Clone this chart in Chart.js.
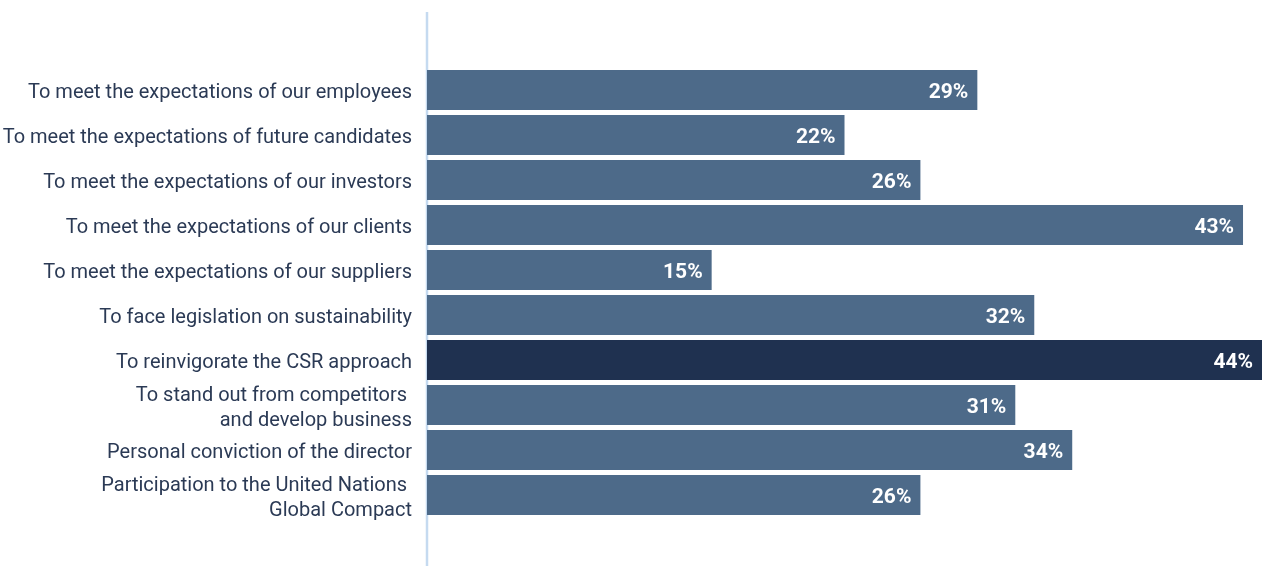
<!DOCTYPE html>
<html>
<head>
<meta charset="utf-8">
<script src="https://cdn.jsdelivr.net/npm/chart.js@4"></script>
<style>
  html, body { margin: 0; padding: 0; background: #fff; }
  #wrap { width: 1262px; height: 566px; }
</style>
</head>
<body>
<div id="wrap"><canvas id="myChart" width="1262" height="566"></canvas></div>
<script>
let reasons = [
    'To meet the expectations of our employees',
    'To meet the expectations of future candidates',
    'To meet the expectations of our investors',
    'To meet the expectations of our clients',
    'To meet the expectations of our suppliers',
    'To face legislation on sustainability',
    'To reinvigorate the CSR approach',
    ['To stand out from competitors ', 'and develop business'],
    'Personal conviction of the director',
    ['Participation to the United Nations ', 'Global Compact']
];
let shares = [29, 22, 26, 43, 15, 32, 44, 31, 34, 26];
let highlighted = [6];

let barColor = '#4d6a89';
let darkColor = '#1f3150';
let fontName = 'Roboto';

// vertical rule drawn along the zero line, running past the bars
let axisRule = {
    id: 'axisRule',
    beforeDatasetsDraw(chart) {
        let ctx = chart.ctx;
        let x = chart.scales.x.getPixelForValue(0);
        ctx.save();
        ctx.strokeStyle = '#c5daf0';
        ctx.lineWidth = 2.5;
        ctx.beginPath();
        ctx.moveTo(x, 12);
        ctx.lineTo(x, chart.height);
        ctx.stroke();
        ctx.restore();
    }
};

// percentage labels inside the end of each bar
let valueLabels = {
    id: 'valueLabels',
    afterDatasetsDraw(chart) {
        let ctx = chart.ctx;
        let meta = chart.getDatasetMeta(0);
        ctx.save();
        ctx.fillStyle = '#ffffff';
        ctx.font = 'bold 21px ' + fontName;
        ctx.textAlign = 'right';
        ctx.textBaseline = 'middle';
        meta.data.forEach((bar, i) => {
            ctx.fillText(shares[i] + '%', bar.x - 9, bar.y + 3);
        });
        ctx.restore();
    }
};

let ctx = document.getElementById('myChart').getContext('2d');
new Chart(ctx, {
    type: 'bar',
    data: {
        labels: reasons,
        datasets: [{
            data: shares,
            backgroundColor: shares.map((v, i) => highlighted.includes(i) ? darkColor : barColor),
            barPercentage: 40 / 45,
            categoryPercentage: 1
        }]
    },
    options: {
        indexAxis: 'y',
        responsive: false,
        animation: false,
        layout: { padding: { top: 67.5, bottom: 48.5, left: 0, right: 0 } },
        plugins: {
            legend: { display: false },
            tooltip: { enabled: false }
        },
        scales: {
            x: {
                display: false,
                min: 0,
                max: 44
            },
            y: {
                afterFit(scale) { scale.width = 427; },
                grid: { display: false, drawTicks: false },
                border: { display: false },
                ticks: {
                    autoSkip: false,
                    color: '#2b3a55',
                    padding: 15,
                    labelOffset: 3,
                    font: { family: fontName, size: 20, lineHeight: 1.25 }
                }
            }
        }
    },
    plugins: [axisRule, valueLabels]
});
</script>
</body>
</html>
